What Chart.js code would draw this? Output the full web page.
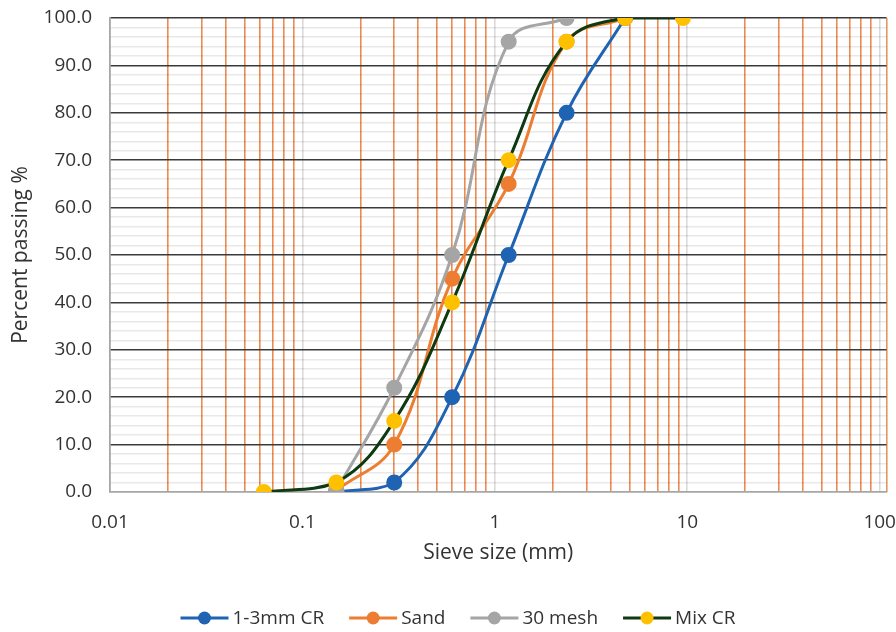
<!DOCTYPE html>
<html><head><meta charset="utf-8">
<script src="https://cdn.jsdelivr.net/npm/chart.js@4.4.0/dist/chart.umd.min.js"></script>
<style>html,body{margin:0;padding:0;background:#fff}</style>
</head><body>
<canvas id="c" width="896" height="632"></canvas>
<script>
// ---- data ----
const sieveSizes = [0.063, 0.15, 0.3, 0.6, 1.18, 2.36, 4.75, 9.5];
const seriesNames = ['1-3mm CR', 'Sand', '30 mesh', 'Mix CR'];
const cr13   = [null, 0,   2,  20, 50, 80,  100, null];
const sand   = [null, 0.3, 10, 45, 65, 95,  100, null];
const mesh30 = [null, 0.3, 22, 50, 95, 100, null, null];
const mixCR  = [0,    2,   15, 40, 70, 95,  100, 100];
const xTickLabels = ['0.01', '0.1', '1', '10', '100'];
const yMajorTicks = [0, 10, 20, 30, 40, 50, 60, 70, 80, 90, 100];

const lineColors   = ['#1F63B3', '#ED7D31', '#A5A5A5', '#0E3A12'];
const markerColors = ['#1F63B3', '#ED7D31', '#A5A5A5', '#FFC000'];
const FONT = '"Open Sans", "Noto Sans", sans-serif';
const TXT = '#333333';

function toPoints(arr) {
  return sieveSizes.map((s, i) => ({ x: s, y: arr[i] })).filter(p => p.y !== null);
}
const allSeries = [cr13, sand, mesh30, mixCR];
const datasets = allSeries.map((arr, i) => ({
  label: seriesNames[i],
  data: toPoints(arr),
  borderColor: lineColors[i],
  backgroundColor: markerColors[i],
  pointBackgroundColor: markerColors[i],
  pointBorderColor: markerColors[i],
  pointRadius: 6.5,
  pointHoverRadius: 6.5,
  borderWidth: 3,
  tension: 0.4,
  order: 3 - i,
}));

function isPow10(v) {
  const l = Math.log10(v);
  return Math.abs(l - Math.round(l)) < 1e-6;
}

const X_MAX = 108.5;

const customLegend = {
  id: 'customLegend',
  afterDraw(chart) {
    const ctx = chart.ctx;
    ctx.save();
    ctx.font = '19px ' + FONT;
    ctx.textBaseline = 'middle';
    const y = 618, iconW = 48, gapText = 4, gapItem = 25;
    const widths = chart.data.datasets.map(d => iconW + gapText + ctx.measureText(d.label).width);
    const total = widths.reduce((a, b) => a + b, 0) + gapItem * (widths.length - 1);
    let x = 458 - total / 2;
    chart.data.datasets.forEach((d, i) => {
      ctx.strokeStyle = d.borderColor; ctx.lineWidth = 3;
      ctx.beginPath(); ctx.moveTo(x, y); ctx.lineTo(x + iconW, y); ctx.stroke();
      ctx.fillStyle = d.pointBackgroundColor;
      ctx.beginPath(); ctx.arc(x + iconW / 2, y, 6.5, 0, Math.PI * 2); ctx.fill();
      ctx.fillStyle = TXT;
      ctx.fillText(d.label, x + iconW + gapText, y + 1);
      x += widths[i] + gapItem;
    });
    ctx.restore();
  },
};

new Chart(document.getElementById('c'), {
  type: 'line',
  data: { datasets },
  plugins: [customLegend],
  options: {
    responsive: false,
    animation: false,
    devicePixelRatio: 1,
    layout: { padding: { left: 0, right: 0, top: 18, bottom: 0 } },
    plugins: {
      tooltip: { enabled: false },
      legend: { display: false },
    },
    scales: {
      x: {
        type: 'logarithmic',
        min: 0.01,
        max: X_MAX,
        afterFit: (s) => { s.height = 140; s.paddingLeft = 0; s.paddingRight = 9; },
        title: {
          display: true, text: 'Sieve size (mm)', color: TXT,
          font: { family: FONT, size: 21 }, padding: { top: 0, bottom: 66 },
        },
        ticks: {
          autoSkip: false, maxRotation: 0, padding: 19, color: TXT,
          font: { family: FONT, size: 19 },
          callback: function (v) {
            if (v > 100.5 || !isPow10(v)) return '';
            const idx = Math.round(Math.log10(v)) + 2;
            return xTickLabels[idx];
          },
        },
        afterBuildTicks: (scale) => {
          const t = [];
          for (let e = -2; e <= 1; e++) {
            for (let m = 1; m <= 9; m++) t.push({ value: m * Math.pow(10, e) });
          }
          t.push({ value: 100 });
          t.push({ value: X_MAX });
          scale.ticks = t;
        },
        grid: {
          drawTicks: false,
          color: (ctx) => {
            const v = ctx.tick && ctx.tick.value;
            if (v === undefined) return 'transparent';
            if (v === 0.01) return '#A6A6A6';
            if (v > 100.5) return '#E8955E';
            return isPow10(v) ? '#DADADA' : 'rgba(234,120,50,0.85)';
          },
          lineWidth: 1.6,
        },
        border: { display: true, color: '#A6A6A6', width: 1.5 },
      },
      y: {
        min: 0, max: 100,
        afterFit: (s) => { s.width = 110; s.paddingTop = 0; s.paddingBottom = 0; },
        title: {
          display: true, text: 'Percent passing %', color: TXT,
          font: { family: FONT, size: 21 }, padding: { top: 8, bottom: 0 },
        },
        ticks: {
          stepSize: 2, autoSkip: false, padding: 18, color: TXT,
          font: { family: FONT, size: 19 },
          callback: (v) => (yMajorTicks.includes(Math.round(v)) && Math.abs(v - Math.round(v)) < 1e-6) ? v.toFixed(1) : '',
        },
        grid: {
          drawTicks: false,
          color: (ctx) => {
            const v = ctx.tick && ctx.tick.value;
            if (v === 0) return '#A6A6A6';
            return (Math.round(v) % 10 === 0) ? '#3A3A3A' : 'rgba(0,0,0,0.09)';
          },
          lineWidth: (ctx) => {
            const v = ctx.tick && ctx.tick.value;
            return (Math.round(v) % 10 === 0) ? 1.6 : 1.4;
          },
        },
        border: { display: true, color: '#A6A6A6', width: 1.5 },
      },
    },
  },
});
</script>
</body></html>
